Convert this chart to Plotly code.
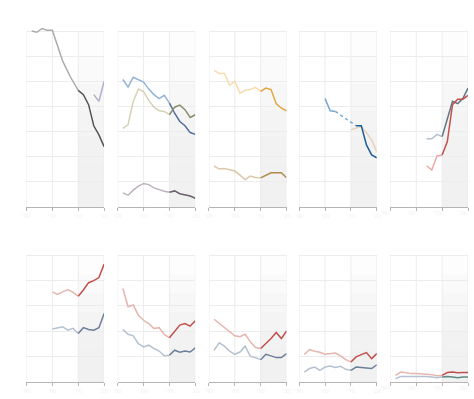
import plotly.graph_objects as go

# ---------------- data ----------------
YEARS_15 = [1992, 1994, 1996, 1998, 2000, 2002, 2004, 2006, 2008, 2010, 2012, 2014, 2016, 2018, 2020]
YEARS_11 = [2000, 2002, 2004, 2006, 2008, 2010, 2012, 2014, 2016, 2018, 2020]

# Row 1
P1_GRAY_YEARS = [1992, 1994, 1996, 1998, 2000, 2002, 2004, 2007, 2010, 2012, 2014, 2016, 2018, 2020]
P1_GRAY = [7.0, 6.95, 7.1, 7.03, 7.03, 6.4, 5.8, 5.17, 4.64, 4.47, 4.07, 3.23, 2.87, 2.4]
P1_LILAC_YEARS = [2016, 2018, 2020]
P1_LILAC = [4.47, 4.2, 5.0]

P2_BLUE = [5.07, 4.77, 5.16, 5.07, 4.97, 4.69, 4.47, 4.31, 4.44, 4.13, 3.73, 3.4, 3.23, 2.96, 2.89]
P2_TAN = [3.13, 3.27, 4.2, 4.69, 4.59, 4.24, 3.97, 3.83, 3.8, 3.67, 3.97, 4.05, 3.87, 3.56, 3.67]
P2_GRAY = [0.56, 0.47, 0.67, 0.83, 0.93, 0.89, 0.76, 0.69, 0.63, 0.59, 0.64, 0.53, 0.49, 0.44, 0.35]

P3_GOLD = [5.43, 5.31, 5.31, 4.84, 5.0, 4.53, 4.64, 4.67, 4.76, 4.6, 4.73, 4.67, 4.11, 3.93, 3.83]
P3_BROWN = [1.63, 1.51, 1.53, 1.49, 1.43, 1.27, 1.09, 1.23, 1.17, 1.16, 1.27, 1.36, 1.36, 1.36, 1.16]

P4_BLUE_YEARS = [2000, 2002, 2004, 2012, 2014, 2016, 2018, 2020]
P4_BLUE = [4.31, 3.83, 3.8, 3.23, 3.23, 2.47, 2.07, 1.96]
P4_BEIGE_YEARS = [2010, 2012, 2014, 2016, 2018, 2020]
P4_BEIGE = [3.07, 3.13, 3.2, 2.95, 2.67, 2.2]

P5_YEARS = [2004, 2006, 2008, 2010, 2012, 2014, 2016, 2018, 2020]
P5_SLATE = [2.71, 2.71, 2.89, 2.8, 3.53, 4.2, 4.11, 4.31, 4.73]
P5_RED = [1.64, 1.47, 2.03, 2.07, 2.6, 4.07, 4.29, 4.29, 4.44]

# Row 2
P6_RED = [3.55, 3.45, 3.55, 3.64, 3.53, 3.38, 3.62, 3.91, 3.99, 4.11, 4.64]
P6_BLUE = [2.09, 2.14, 2.17, 2.04, 2.11, 1.91, 2.14, 2.07, 2.04, 2.14, 2.7]
P7_RED = [3.68, 2.96, 3.03, 2.63, 2.43, 2.3, 2.11, 2.14, 1.87, 1.74, 1.97, 2.24, 2.3, 2.2, 2.41]
P7_BLUE = [2.07, 1.88, 1.82, 1.51, 1.38, 1.45, 1.32, 1.22, 1.03, 1.05, 1.25, 1.17, 1.22, 1.18, 1.34]
P8_RED = [2.47, 2.3, 2.14, 1.97, 1.82, 1.78, 1.88, 1.58, 1.36, 1.32, 1.51, 1.71, 1.95, 1.71, 2.01]
P8_BLUE = [1.25, 1.54, 1.41, 1.21, 1.09, 1.18, 1.41, 1.01, 0.96, 0.88, 1.09, 1.03, 0.96, 0.96, 1.12]
P9_RED = [1.08, 1.28, 1.21, 1.17, 1.09, 1.12, 1.14, 1.03, 0.88, 0.79, 0.99, 1.08, 1.16, 0.92, 1.12]
P9_BLUE = [0.39, 0.53, 0.59, 0.46, 0.59, 0.63, 0.57, 0.62, 0.5, 0.46, 0.59, 0.57, 0.55, 0.53, 0.68]
P10_RED = [0.26, 0.39, 0.36, 0.33, 0.33, 0.33, 0.31, 0.29, 0.25, 0.26, 0.37, 0.39, 0.36, 0.37, 0.37]
P10_BLUE = [0.13, 0.22, 0.22, 0.22, 0.22, 0.24, 0.22, 0.2, 0.17, 0.2, 0.22, 0.2, 0.17, 0.2, 0.2]

X_TICKS = [1990, 2000, 2010, 2020]
X_TICK_LABELS = ["'90", "'00", "'10", "'20"]
SPLIT_YEAR = 2010
ROW1_MAX = 7
ROW2_MAX = 5
HEADROOM = 0.2   # extra room above the top gridline so peaks are not clipped

# ---------------- styling ----------------
RED = ("#e6b5ae", "#c0504d")
BLUE = ("#b5c2d0", "#6b7f99")

# (panel, years, values, (light, dark))
SERIES = [
    (1, P1_GRAY_YEARS, P1_GRAY, ("#ababab", "#555555")),
    (1, P1_LILAC_YEARS, P1_LILAC, ("#b2b0c8", "#b2b0c8")),
    (2, YEARS_15, P2_BLUE, ("#93b3d8", "#4f6f9a")),
    (2, YEARS_15, P2_TAN, ("#d6d2b6", "#8c8c6c")),
    (2, YEARS_15, P2_GRAY, ("#bdb3bd", "#6a5f6e")),
    (3, YEARS_15, P3_GOLD, ("#f6dcac", "#e0a63a")),
    (3, YEARS_15, P3_BROWN, ("#ddc8aa", "#b08a4a")),
    (4, P4_BEIGE_YEARS, P4_BEIGE, ("#ead2b8", "#ead2b8")),
    (4, P4_BLUE_YEARS, P4_BLUE, ("#78a6cc", "#1f5e94")),
    (5, P5_YEARS, P5_SLATE, ("#b3bfcd", "#5e7480")),
    (5, P5_YEARS, P5_RED, ("#e9aaa8", "#c4504e")),
    (6, YEARS_11, P6_RED, RED),
    (6, YEARS_11, P6_BLUE, BLUE),
    (7, YEARS_15, P7_RED, RED),
    (7, YEARS_15, P7_BLUE, BLUE),
    (8, YEARS_15, P8_RED, RED),
    (8, YEARS_15, P8_BLUE, BLUE),
    (9, YEARS_15, P9_RED, RED),
    (9, YEARS_15, P9_BLUE, BLUE),
    (10, YEARS_15, P10_RED, RED),
    (10, YEARS_15, P10_BLUE, ("#b5c2d0", "#5f8a86")),
]

W, H = 474, 399
COL_X0 = [18, 112, 206, 299, 393]
COL_W = 80
ROW_Y = [(31, 207), (255, 382)]

fig = go.Figure()


def axname(p, kind):
    return kind if p == 1 else f"{kind}{p}"


for p in range(1, 11):
    r = 0 if p <= 5 else 1
    c = (p - 1) % 5
    x0 = COL_X0[c] / W
    x1 = min((COL_X0[c] + COL_W) / W, 1.0)
    top, bot = ROW_Y[r]
    ymax = ROW1_MAX if r == 0 else ROW2_MAX
    px_per_unit = (bot - top) / ymax
    top_ext = top - HEADROOM * px_per_unit
    y0 = 1 - bot / H
    y1 = 1 - top_ext / H
    xa = "xaxis" if p == 1 else f"xaxis{p}"
    ya = "yaxis" if p == 1 else f"yaxis{p}"
    fig.layout[xa] = dict(
        domain=[x0, x1], anchor=axname(p, "y"), range=[1990, 2020],
        tickvals=X_TICKS, ticktext=X_TICK_LABELS, showgrid=False,
        zeroline=False,
        showline=True, linecolor="#b5b5b5", linewidth=1,
        ticks="outside", ticklen=3, tickcolor="#b5b5b5",
        tickfont=dict(size=6, color="#f0f0f0", family="Open Sans"),
        ticklabelposition="outside left" if c == 4 else "outside",
        fixedrange=True,
    )
    fig.layout[ya] = dict(
        domain=[y0, y1], anchor=axname(p, "x"), range=[0, ymax + HEADROOM],
        tickvals=list(range(0, ymax + 1)),
        showgrid=True, gridcolor="#ececec", gridwidth=1, zeroline=False,
        showticklabels=False, showline=False, fixedrange=True,
    )
    xr, yr = axname(p, "x"), axname(p, "y")
    # highlighted period shading (soft gradient towards the bottom)
    steps = [(1.0, 0.08), (0.85, 0.1), (0.7, 0.1), (0.55, 0.1), (0.4, 0.1), (0.25, 0.08)]
    for frac, op in steps:
        fig.add_shape(
            type="rect", xref=xr, yref=yr,
            x0=SPLIT_YEAR, x1=2020, y0=0, y1=ymax * frac,
            fillcolor="#e4e4e4", opacity=op, line_width=0, layer="below",
        )
    # vertical gridlines stopping at the top horizontal gridline
    for tv in X_TICKS:
        fig.add_shape(
            type="line", xref=xr, yref=yr, x0=tv, x1=tv, y0=0, y1=ymax,
            line=dict(color="#ececec", width=1), layer="below",
        )

for p, yrs, vals, (light, dark) in SERIES:
    xr, yr = axname(p, "x"), axname(p, "y")
    pre = [(x, v) for x, v in zip(yrs, vals) if x <= SPLIT_YEAR]
    post = [(x, v) for x, v in zip(yrs, vals) if x >= SPLIT_YEAR]
    gap_dotted = yrs is P4_BLUE_YEARS
    if len(pre) > 1:
        fig.add_trace(go.Scatter(x=[a for a, _ in pre], y=[b for _, b in pre], mode="lines",
                                 line=dict(color=light, width=1.5), xaxis=xr, yaxis=yr,
                                 hoverinfo="skip", showlegend=False))
    if gap_dotted and pre and post:
        fig.add_trace(go.Scatter(x=[pre[-1][0], post[0][0]], y=[pre[-1][1], post[0][1]],
                                 mode="lines", line=dict(color=light, width=1.5, dash="dot"),
                                 xaxis=xr, yaxis=yr, hoverinfo="skip", showlegend=False))
    if len(post) > 1:
        fig.add_trace(go.Scatter(x=[a for a, _ in post], y=[b for _, b in post], mode="lines",
                                 line=dict(color=dark, width=1.5), xaxis=xr, yaxis=yr,
                                 hoverinfo="skip", showlegend=False))

fig.update_layout(
    width=W, height=H, margin=dict(l=0, r=0, t=0, b=0),
    paper_bgcolor="white", plot_bgcolor="white", showlegend=False,
)

fig.write_html(
    "out.html",
    config={"displayModeBar": False},
    post_script="document.body.style.margin='0';document.body.style.overflow='hidden';",
)
